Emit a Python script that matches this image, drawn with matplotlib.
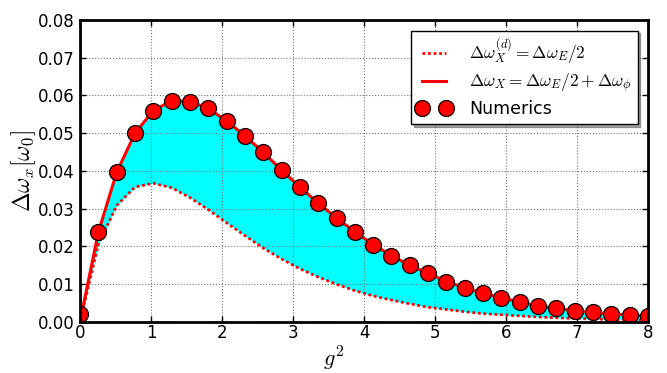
import numpy as np
import matplotlib
matplotlib.use("Agg")
import matplotlib.pyplot as plt

plt.rcParams['mathtext.fontset'] = 'cm'
plt.rcParams['font.family'] = ['DejaVu Sans']

# data
g2 = np.linspace(0, 8, 32)
numerics = [0.0020, 0.0237, 0.0396, 0.0500, 0.0560, 0.0586, 0.0584, 0.0566,
            0.0532, 0.0493, 0.0449, 0.0402, 0.0357, 0.0314, 0.0275, 0.0238,
            0.0204, 0.0175, 0.0149, 0.0128, 0.0106, 0.0090, 0.0075, 0.0063,
            0.0052, 0.0041, 0.0035, 0.0029, 0.0024, 0.0020, 0.0017, 0.0015]
upper = [0.0000, 0.0237, 0.0396, 0.0500, 0.0560, 0.0586, 0.0584, 0.0566,
         0.0532, 0.0493, 0.0449, 0.0402, 0.0357, 0.0314, 0.0275, 0.0238,
         0.0204, 0.0175, 0.0149, 0.0128, 0.0106, 0.0090, 0.0075, 0.0063,
         0.0052, 0.0041, 0.0035, 0.0029, 0.0024, 0.0020, 0.0017, 0.0015]
lower = [0.0000, 0.0205, 0.0308, 0.0357, 0.0367, 0.0355, 0.0329, 0.0297,
         0.0262, 0.0228, 0.0195, 0.0166, 0.0140, 0.0118, 0.0099, 0.0082,
         0.0068, 0.0057, 0.0047, 0.0038, 0.0032, 0.0026, 0.0021, 0.0018,
         0.0015, 0.0012, 0.0010, 0.0008, 0.0007, 0.0005, 0.0004, 0.0003]
xticks = [0, 1, 2, 3, 4, 5, 6, 7, 8]
yticks = [0.00, 0.01, 0.02, 0.03, 0.04, 0.05, 0.06, 0.07, 0.08]

fig = plt.figure(figsize=(6.67, 3.73), dpi=100)
ax = fig.add_axes([0.12, 0.138, 0.8515, 0.808])

ax.fill_between(g2, lower, upper, color='cyan', lw=0, zorder=1)
ax.plot(g2, lower, ls=(0, (1, 1)), color='red', lw=2.0, zorder=3,
        label=r'$\Delta\omega_X^{(d)}=\Delta\omega_E/2$')
ax.plot(g2, upper, ls='-', color='red', lw=2.2, zorder=3,
        label=r'$\Delta\omega_X=\Delta\omega_E/2+\Delta\omega_\phi$')
ax.plot(g2, numerics, ls='none', marker='o', ms=11.5, mfc='red', mec='black',
        mew=0.9, zorder=4, label='Numerics')

ax.set_xlim(0, 8)
ax.set_ylim(0, 0.08)
ax.set_xticks(xticks)
ax.set_yticks(yticks)
ax.set_xticklabels([str(v) for v in xticks], fontsize=12)
ax.set_yticklabels(['%.2f' % v for v in yticks], fontsize=12)
ax.tick_params(direction='in', top=True, right=True, length=4, width=1, pad=4)
ax.tick_params(axis='x', pad=2)
ax.grid(True, ls=':', color='0.45', lw=0.8)
for s in ax.spines.values():
    s.set_linewidth(2)
    s.set_zorder(5)

ax.set_xlabel(r'$g^2$', fontsize=16, va='bottom')
fig.canvas.draw()
ax.xaxis.set_label_coords(0.5, 0.0, transform=fig.transFigure)
ax.set_ylabel(r'$\Delta\omega_x[\omega_0]$', fontsize=17, labelpad=0)

leg = ax.legend(loc='upper right', numpoints=2, fontsize=12.5, shadow=True,
                fancybox=False, framealpha=1, borderaxespad=0.6,
                handlelength=2.0, borderpad=0.35, labelspacing=0.3,
                handletextpad=1.0)
leg.get_frame().set_edgecolor('black')
leg.get_frame().set_linewidth(1)

fig.savefig('out.png', dpi=100, facecolor='white')
